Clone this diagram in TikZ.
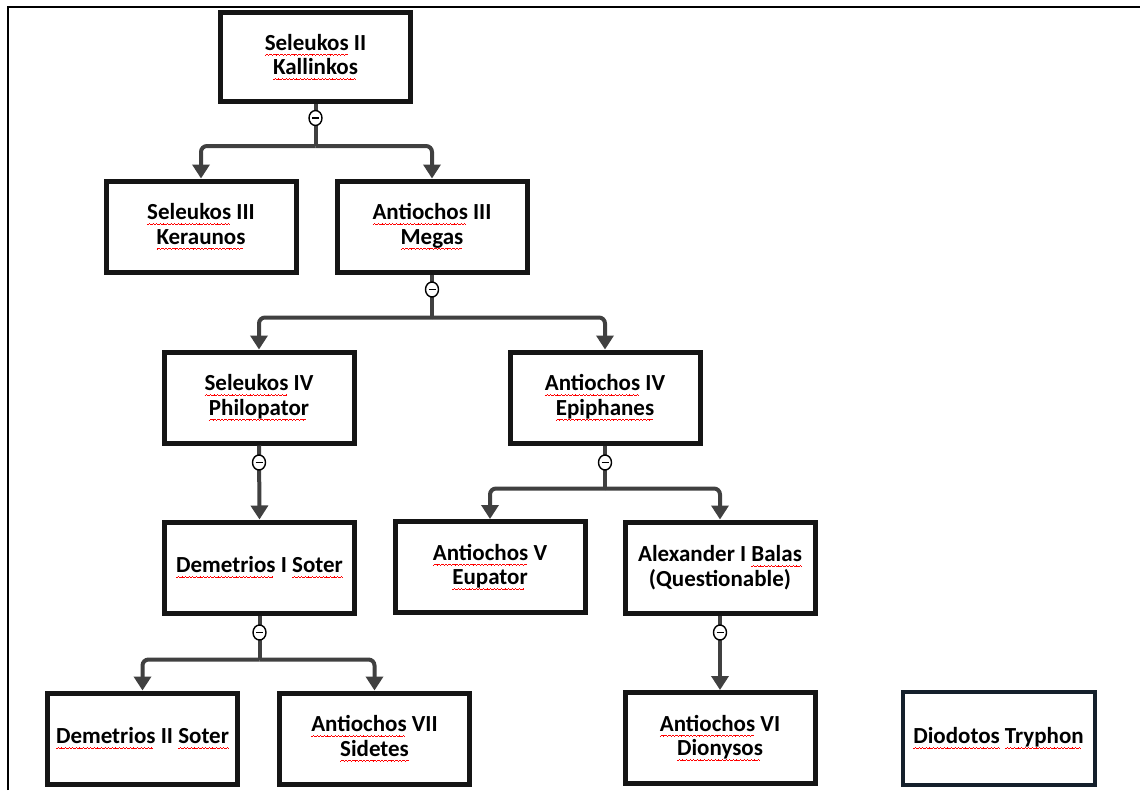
\documentclass[tikz,border=0pt]{standalone}
\usepackage{fontspec}
\setmainfont{Carlito}
\usetikzlibrary{arrows.meta,shapes.geometric,calc}
\newsavebox\wavebox
\sbox\wavebox{\textcolor{red}{\vrule width 0.9pt height -4.6pt depth 5.4pt\vrule width 0.9pt height -4pt depth 4.8pt\vrule width 0.9pt height -3.4pt depth 4.2pt\vrule width 0.9pt height -4pt depth 4.8pt}}
\newcommand\sq[1]{\leavevmode\setbox0\hbox{#1}\rlap{\leaders\copy\wavebox\hskip\wd0}\box0\relax}
\definecolor{boxc}{HTML}{151515}
\definecolor{linec}{HTML}{404040}
\definecolor{navy}{HTML}{15202B}
\tikzset{
  kbox/.style={draw=boxc, line width=5pt, fill=white, minimum width=190pt, minimum height=91pt,
    align=center, font=\bfseries\fontsize{23}{24.5}\selectfont, inner sep=1pt},
  conn/.style={draw=linec, line width=4pt, rounded corners=6pt},
  arr/.style={conn, -{Triangle[width=17pt,length=14pt]}},
  mnode/.style={ellipse, draw=black, line width=1.4pt, fill=white, minimum width=13pt,
    minimum height=15pt, inner sep=0pt,
    path picture={\draw[line width=1.6pt] ([xshift=-3.5pt]path picture bounding box.center) -- ([xshift=3.5pt]path picture bounding box.center);}}
}
\begin{document}
\begin{tikzpicture}[x=1pt,y=-1pt]
\useasboundingbox (0,0) rectangle (1140,790);
\fill[white] (0,0) rectangle (1140,790);
% frame
\draw[black, line width=2pt] (8,790) -- (8,7) -- (1140,7);
% boxes
\node[kbox, minimum height=89pt] (k1) at (315.5,57) {\sq{Seleukos} II\\\sq{Kallinkos}};
\node[kbox] (k2) at (201,226.5) {\sq{Seleukos} III\\\sq{Keraunos}};
\node[kbox] (k3) at (432,226.5) {\sq{Antiochos} III\\\sq{Megas}};
\node[kbox] (k4) at (259,397.5) {\sq{Seleukos} IV\\\sq{Philopator}};
\node[kbox] (k5) at (605,397.5) {\sq{Antiochos} IV\\\sq{Epiphanes}};
\node[kbox] (k6) at (259.5,567.5) {\sq{Demetrios} I \sq{Soter}};
\node[kbox] (k7) at (490,567) {\sq{Antiochos} V\\\sq{Eupator}};
\node[kbox] (k8) at (720,567.5) {Alexander I \sq{Balas}\\(Questionable)};
\node[kbox] (k9) at (142.5,738.5) {\sq{Demetrios} II \sq{Soter}};
\node[kbox] (k10) at (374.5,738.5) {\sq{Antiochos} VII\\\sq{Sidetes}};
\node[kbox] (k11) at (720,738) {\sq{Antiochos} VI\\\sq{Dionysos}};
\node[kbox, draw=navy, line width=4pt, minimum width=192pt, minimum height=93pt] (k12) at (998.5,738.5) {\sq{Diodotos} \sq{Tryphon}};
% circle positions and bus points
\coordinate (c1) at ($(k1.south)+(0,14)$);
\coordinate (b1) at ($(k1.south)+(0,42)$);
\coordinate (c3) at ($(k3.south)+(0,15)$);
\coordinate (b3) at ($(k3.south)+(0,43)$);
\coordinate (c4) at ($(k4.south)+(0,17)$);
\coordinate (c5) at ($(k5.south)+(0,17)$);
\coordinate (b5) at ($(k5.south)+(0,43)$);
\coordinate (c6) at ($(k6.south)+(0,17)$);
\coordinate (b6) at ($(k6.south)+(0,44)$);
\coordinate (c8) at ($(k8.south)+(0,17)$);
% connectors
\draw[conn] (k1.south) -- (b1);
\draw[arr] (b1) -| (k2.north);
\draw[arr] (b1) -| (k3.north);
\draw[conn] (k3.south) -- (b3);
\draw[arr] (b3) -| (k4.north);
\draw[arr] (b3) -| (k5.north);
\draw[arr] (k4.south) -- (k6.north);
\draw[conn] (k5.south) -- (b5);
\draw[arr] (b5) -| (k7.north);
\draw[arr] (b5) -| (k8.north);
\draw[conn] (k6.south) -- (b6);
\draw[arr] (b6) -| (k9.north);
\draw[arr] (b6) -| (k10.north);
\draw[arr] (k8.south) -- (k11.north);
% minus circles
\node[mnode] (m1) at (c1) {};
\node[mnode] (m3) at (c3) {};
\node[mnode] (m4) at (c4) {};
\node[mnode] (m5) at (c5) {};
\node[mnode] (m6) at (c6) {};
\node[mnode] (m8) at (c8) {};
\end{tikzpicture}
\end{document}
